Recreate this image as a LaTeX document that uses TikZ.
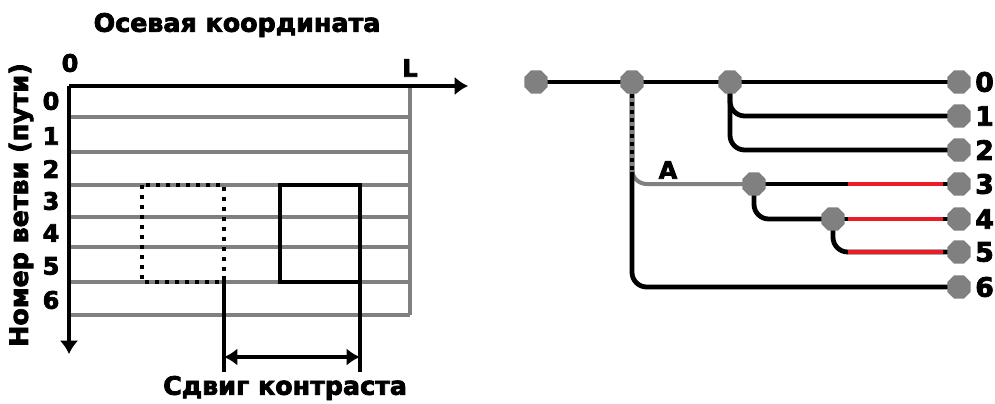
\documentclass[tikz,border=0pt]{standalone}
\usepackage{fontspec}
\setmainfont{DejaVu Sans}
\newfontfamily\heavy[FakeBold=3]{DejaVu Sans Bold}
\usetikzlibrary{shapes.geometric,arrows.meta,calc}
\pgfdeclarelayer{background}
\pgfsetlayers{background,main}
\definecolor{midgray}{HTML}{808080}
\definecolor{segred}{HTML}{ED1C24}
\tikzset{
  blk/.style={line width=3.6pt,black},
  gry/.style={line width=3pt,midgray},
  redseg/.style={line width=3.6pt,segred},
  jn/.style={regular polygon,regular polygon sides=8,fill=midgray,inner sep=0pt,minimum size=19pt},
  lbl/.style={font=\heavy\fontsize{19}{19}\selectfont,inner sep=0pt},
  num/.style={font=\heavy\fontsize{18}{18}\selectfont,inner sep=0pt},
  rnum/.style={font=\heavy\fontsize{20}{20}\selectfont,inner sep=0pt,anchor=west},
  axarrow/.style={-{Latex[length=10pt,width=14pt]}},
}
\begin{document}
\begin{tikzpicture}[x=0.75pt,y=-0.75pt]
\useasboundingbox (0,0) rectangle (995,403);

% ---------- left: axial coordinate vs. branch number ----------
\coordinate (O) at (69,86);
\coordinate (xend) at (468,86);
\coordinate (yend) at (69,354);
\coordinate (Ltop) at (410,86);
\foreach \i/\y in {0/117,1/152,2/185,3/217,4/247,5/282,6/315}{
  \coordinate (g\i) at (69,\y);
  \coordinate (h\i) at (410,\y);
  \draw[gry] (g\i) -- (h\i);
}
\draw[gry] (Ltop) -- (h6);
\draw[blk,axarrow] (O) -- (xend);
\draw[blk,axarrow] (O) -- (yend);

\node[lbl] (title) at (237,25) {Осевая координата};
\node[lbl,rotate=90] (ylab) at (21,205) {Номер ветви (пути)};
\node[num] (zero) at (70,63) {0};
\node[num] (Lmark) at (410,68) {L};
\foreach \i/\y in {0/101,1/136,2/169,3/201,4/233,5/266,6/300}{
  \node[num] (row\i) at (51,\y) {\i};
}

% contrast region before and after the shift
\coordinate (d1) at (142,185);
\coordinate (d2) at (224,282);
\coordinate (s1) at (280,185);
\coordinate (s2) at (360,282);
\draw[line width=3.6pt,dash pattern=on 3.2pt off 4.3pt] (d1) rectangle (d2);
\draw[blk] (s1) rectangle (s2);
\coordinate (t1) at (224,276);
\coordinate (b1) at (224,372);
\coordinate (b2) at (360,372);
\draw[blk] (t1) -- (b1);
\draw[blk] (s2) -- (b2);
\coordinate (a1) at (224,357);
\coordinate (a2) at (360,357);
\draw[blk,{Latex[length=10pt,width=13pt]}-{Latex[length=10pt,width=13pt]}] (a1) -- (a2);
\node[lbl] (shift) at (285,388) {Сдвиг контраста};

% ---------- right: branching tree ----------
\node[jn] (r0) at (536,82) {};
\node[jn] (r1) at (632,82) {};
\node[jn] (r2) at (730,82) {};
\node[jn] (n3) at (754,184) {};
\node[jn] (n4) at (833,219) {};
\foreach \i/\y in {0/82,1/116,2/150,3/184,4/219,5/252,6/287}{
  \node[jn] (e\i) at (959,\y) {};
  \node[rnum] (lab\i) at (975,\y) {\i};
}
\node[num] (A) at (668,170) {A};

\begin{pgfonlayer}{background}
  \draw[blk] (r0.center) -- (r1.center) -- (r2.center) -- (e0.center);
  \draw[blk,rounded corners=11pt] (r2.center) |- (e1.center);
  \draw[blk,rounded corners=11pt] (r2.center) |- (e2.center);
  % grey branch A first, the black trunk to branch 6 over it
  \draw[gry,rounded corners=11pt] (r1.center) |- (n3.center);
  \draw[blk,rounded corners=11pt] (r1.center) |- (e6.center);
  % shared stretch of both paths: alternating black and grey
  \coordinate (dashend) at ($(r1 |- n3)+(0,-12)$);
  \draw[gry,line width=3.6pt,dash pattern=on 3pt off 3pt] (r1.center) -- (dashend);
  \draw[blk] (n3.center) -- (e3.center);
  \draw[blk,rounded corners=11pt] (n3.center) |- (n4.center);
  \draw[blk] (n4.center) -- (e4.center);
  \draw[blk,rounded corners=11pt] (n4.center) |- (e5.center);
  \foreach \i/\y in {3/184,4/219,5/252}{
    \coordinate (rs\i) at (848,\y);
    \coordinate (re\i) at (943,\y);
    \draw[redseg] (rs\i) -- (re\i);
  }
\end{pgfonlayer}
\end{tikzpicture}
\end{document}
